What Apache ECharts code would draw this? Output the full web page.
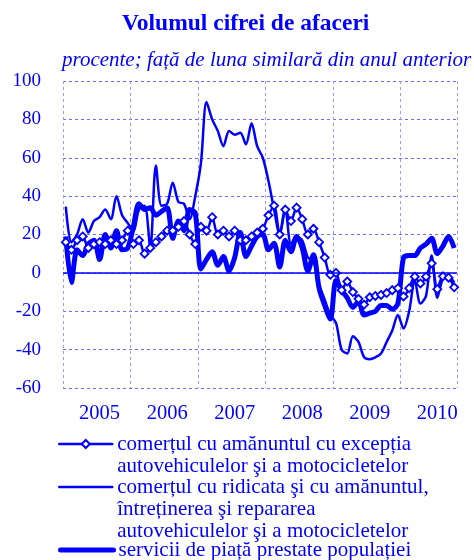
<!DOCTYPE html>
<html>
<head>
<meta charset="utf-8">
<script src="https://cdn.jsdelivr.net/npm/echarts@6/dist/echarts.min.js"></script>
<style>
html, body { margin: 0; padding: 0; background: #fff; }
#chart { width: 474px; height: 560px; }
</style>
</head>
<body>
<div id="chart"></div>
<script>
// ani si luni (ian 2005 - oct 2010)
const years = ['2005', '2006', '2007', '2008', '2009', '2010'];
const months = ['ian', 'feb', 'mar', 'apr', 'mai', 'iun', 'iul', 'aug', 'sep', 'oct', 'nov', 'dec'];
const yTicks = [-60, -40, -20, 0, 20, 40, 60, 80, 100];

const names = [
    'comerțul cu amănuntul cu excepția\nautovehiculelor şi a motocicletelor',
    'comerțul cu ridicata şi cu amănuntul,\nîntreținerea şi repararea\nautovehiculelor şi a motocicletelor',
    'servicii de piață prestate populației'
];

// comertul cu amanuntul (romburi)
const retail = [
    16, 12, 17, 19, 13, 15, 16, 15, 17, 15, 17, 22,
    15, 17, 10, 13, 16, 19, 22, 22, 24, 27, 20, 15,
    24, 22, 29, 20, 22, 19, 22, 17, 17, 19, 21, 23,
    30, 35, 20, 33, 27, 34, 28, 20, 23, 16, 8, -1,
    0, -9, -4.5, -10, -13.5, -16.5, -12.7, -12, -11.5, -10.5, -9, -8,
    -12.3, -8, -2, -5.5, -2, 5, -8.5, -1.8, -2.5, -7.5
];
// comertul cu ridicata si cu amanuntul (linie subtire)
const wholesale = [
    34.5, 16, 20, 28, 21, 27, 29, 33, 28, 40, 30, 26,
    22, 33, 35, 13, 56, 35, 36, 47, 37, 36, 28, 40,
    57, 89, 80, 74, 66, 74, 72, 73, 67, 78, 66, 60,
    48, 33, 20, 33, 15, 19, 17, 8, 6, -6, -14, -22,
    -26, -40, -42, -33, -36, -44, -45, -44, -42, -36, -30, -22,
    -29, -20, -4, -16, -12, 9, -13, -3, -2, -5
];
// servicii de piata (linie groasa)
const services = [
    19, -5, 12, 9, 15, 17, 7, 20, 13, 22, 12, 13,
    24, 36, 33, 34, 30, 32, 34, 18, 27, 22, 33, 31,
    2, 7, 11, 4, 8.5, 1, 8, 21, 8.5, 14, 19, 20,
    12, 15.5, 3, 17, 11, 19, 13, 1, 9.5, -8, -17, -24,
    -4, -9, -13, -18, -15, -22, -21, -20, -17, -17, -19, -16,
    8, 9, 9, 13, 15, 18, 10, 14, 19, 13
];

const categories = [];
years.forEach(y => months.forEach(m => categories.push(m + ' ' + y)));
categories.length = retail.length;

const blue = '#0000ff';
const serif = '"Liberation Serif", "DejaVu Serif", serif';

// legenda: cate o componenta pe serie, pictograma aliniata cu primul rand
const lineH = 22;
const iconY = [444, 487, 550];
const legendWidths = [2.5, 2.5, 5];

function makeLegend(i) {
    const n = names[i].split('\n').length;
    const pre = '\n'.repeat(n - 1);
    const item = { name: names[i] };
    if (i > 0) item.itemStyle = { opacity: 0 };
    return {
        data: [item],
        left: 58,
        top: iconY[i] - (2 * n - 1) * lineH / 2,
        padding: 0,
        itemWidth: 53,
        itemHeight: 10,
        selectedMode: false,
        formatter: name => pre + name,
        lineStyle: { width: legendWidths[i], cap: 'round' },
        textStyle: { fontFamily: serif, fontSize: 21, color: blue, lineHeight: lineH }
    };
}

const chart = echarts.init(document.getElementById('chart'));
chart.setOption({
    animation: false,
    title: [{
        text: 'Volumul cifrei de afaceri',
        left: 122,
        top: 12,
        padding: 0,
        textStyle: { fontFamily: serif, fontSize: 23.5, fontWeight: 'bold', color: blue }
    }, {
        text: 'procente; față de luna similară din anul anterior',
        left: 62,
        top: 50,
        padding: 0,
        textStyle: { fontFamily: serif, fontSize: 21, fontStyle: 'italic', fontWeight: 'normal', color: blue }
    }],
    legend: [0, 1, 2].map(makeLegend),
    grid: { left: 63, right: 17, top: 81, bottom: 172, containLabel: false },
    xAxis: {
        type: 'category',
        data: categories,
        boundaryGap: true,
        axisLine: { show: false },
        axisTick: { show: false },
        axisLabel: {
            interval: (idx) => idx % 12 === 6,
            formatter: (v) => v.split(' ')[1],
            fontFamily: serif, fontSize: 20.5, color: blue, margin: 15
        },
        splitLine: {
            show: true,
            interval: (idx) => idx % 12 === 0,
            lineStyle: { color: '#9a9aff', type: [3, 3], width: 1 }
        }
    },
    yAxis: {
        type: 'value',
        min: yTicks[0],
        max: yTicks[yTicks.length - 1],
        interval: 20,
        axisLine: { show: false },
        axisTick: { show: false },
        axisLabel: { fontFamily: serif, fontSize: 19, color: blue, margin: 22 },
        splitLine: { lineStyle: { color: '#6c6cff', type: [3, 3], width: 1 } }
    },
    series: [{
        name: names[0],
        type: 'line',
        data: retail,
        smooth: 0.3,
        symbol: 'diamond',
        symbolSize: 8,
        showAllSymbol: true,
        z: 4,
        lineStyle: { color: blue, width: 2.5 },
        itemStyle: { color: '#fff', borderColor: blue, borderWidth: 1.8 }
    }, {
        name: names[1],
        type: 'line',
        data: wholesale,
        smooth: 0.3,
        symbol: 'none',
        z: 3,
        lineStyle: { color: blue, width: 2.5 },
        itemStyle: { color: blue }
    }, {
        name: names[2],
        type: 'line',
        data: services,
        smooth: 0.3,
        symbol: 'none',
        z: 2,
        lineStyle: { color: blue, width: 5 },
        itemStyle: { color: blue },
        markLine: {
            silent: true,
            symbol: 'none',
            label: { show: false },
            lineStyle: { color: blue, type: 'solid', width: 1.5 },
            data: [{ yAxis: 0 }]
        }
    }]
});
</script>
</body>
</html>
